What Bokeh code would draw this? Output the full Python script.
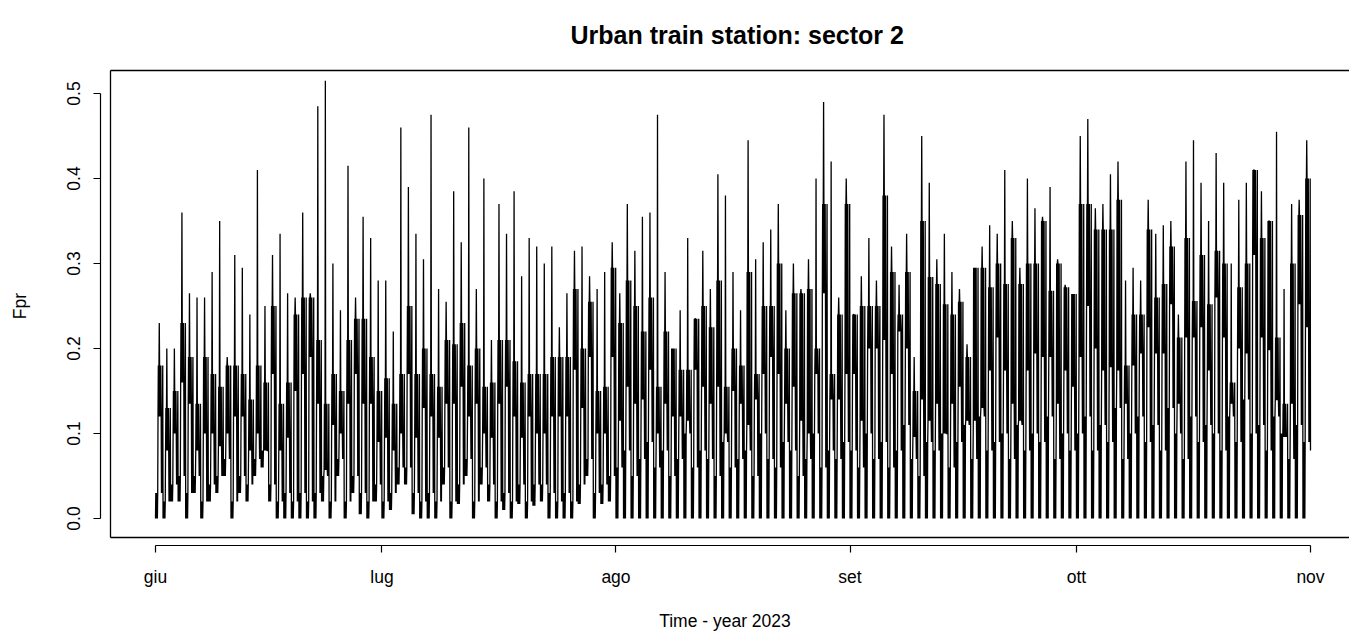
from bokeh.plotting import figure
from bokeh.models import FixedTicker, Range1d, Title, PrintfTickFormatter
from bokeh.embed import file_html
from bokeh.resources import INLINE

# ---------------- data ----------------
month_labels = ["giu", "lug", "ago", "set", "ott", "nov"]
month_start_day = [0, 30, 61, 92, 122, 153]   # days since 1 June 2023

# daily peak value
max_v = [
    .23, .20, .20, .36, .265, .26, .26, .29, .35, .19,
    .31, .295, .24, .41, .25, .31, .335, .265, .26, .36,
    .265, .485, .515, .30, .245, .415, .26, .355, .33, .28,
    .28, .22, .46, .39, .335, .305, .475, .27, .255, .385,
    .325, .46, .27, .40, .21, .37, .335, .385, .285, .33,
    .32, .30, .32, .225, .265, .315, .32, .285, .27, .29,
    .325, .265, .37, .315, .355, .36, .475, .29, .195, .245,
    .33, .235, .315, .27, .405, .38, .29, .245, .445, .305,
    .325, .34, .37, .245, .30, .27, .305, .40, .49, .42,
    .26, .40, .24, .285, .33, .28, .475, .32, .275, .335,
    .19, .45, .395, .305, .335, .29, .27, .205, .275, .32,
    .345, .335, .41, .35, .295, .40, .365, .355, .39, .305,
    .275, .26, .45, .47, .365, .37, .405, .42, .28, .295,
    .28, .375, .335, .345, .35, .24, .42, .445, .395, .35,
    .43, .395, .30, .375, .395, .41, .385, .35, .455, .27,
    .37, .375, .445,
]
# upper edge of the dense daytime band
hi_v = [
    .18, .13, .15, .23, .19, .135, .19, .17, .155, .18, .18, .17, .14, .18, .16, .25, .135, .16, .24, .26, .26, .21, .135, .17,
    .15, .21, .235, .235, .19, .15, .165, .135, .17, .25, .17, .20, .17, .155, .21, .205, .23, .18, .20, .155, .16, .21, .21, .185, .16, .17,
    .17, .17, .19, .19, .19, .27, .20, .255, .15, .155, .295, .23, .28, .25, .22, .26, .155, .22, .20, .175, .175, .235, .25, .225, .28, .155,
    .20, .18, .29, .17, .25, .25, .30, .20, .265, .265, .27, .20, .37, .17, .24, .37, .24, .25, .25, .25, .38, .29, .24, .29, .15, .35,
    .284, .276, .252, .24, .255, .19, .295, .295, .272, .30, .276, .33, .276, .30, .30, .35, .268, .30, .272, .264, .37, .37, .34, .34, .34, .375,
    .18, .24, .24, .34, .26, .276, .32, .213, .33, .256, .31, .252, .315, .30, .16, .272, .30, .41, .33, .35, .213, .135, .30, .357, .40,
]
# lower edge of the dense daytime band
lo_v = [
    .12, .08, .10, .16, .135, .08, .10, .10, .085, .10, .12, .12, .08, .10, .08, .17, .08, .095, .15, .17, .19, .135, .057, .11,
    .10, .135, .17, .135, .135, .09, .095, .08, .10, .17, .095, .13, .12, .095, .135, .135, .155, .12, .135, .10, .095, .135, .155, .12, .095, .12,
    .10, .10, .12, .12, .12, .175, .13, .19, .10, .10, .19, .115, .155, .135, .14, .175, .10, .135, .12, .12, .115, .175, .155, .135, .155, .10,
    .15, .135, .11, .14, .17, .19, .17, .135, .155, .115, .10, .17, .265, .14, .14, .17, .17, .115, .20, .20, .21, .17, .22, .20, .096, .14,
    .115, .135, .10, .135, .155, .115, .115, .13, .174, .213, .174, .135, .115, .174, .194, .19, .19, .135, .174, .155, .19, .25, .20, .174, .178, .174,
    .135, .18, .194, .225, .194, .194, .252, .135, .213, .213, .225, .174, .26, .213, .135, .20, .194, .31, .213, .198, .139, .096, .135, .252, .225,
]
# top of the night-time band
night_v = [
    .03, .02, .04, .05, .03, .05, .02, .04, .05, .07, .02, .05, .04, .07, .08, .04, .02, .03, .02, .03,
    .02, .03, .05, .02, .07, .02, .05, .03, .02, .04, .02, .03, .06, .06, .03, .02, .03, .02, .06, .02,
    .04, .07, .02, .06, .04, .02, .03, .02, .04, .02, .04, .04, .03, .02, .03, .02, .04, .07, .03, .04,
    .05,
    .06, .08, .05, .07, .09, .06, .08, .05, .07, .10, .06, .08, .07, .05, .09, .06, .07, .08, .05, .10,
    .07, .06, .09, .08, .05, .07, .10, .06, .08, .07, .09,
    .08, .06, .10, .07, .09, .06, .08, .11, .07, .05, .09, .08, .10, .06, .09, .11, .07, .12, .08, .09,
    .10, .07, .11, .08, .10, .09, .12, .07, .10, .08,
    .10, .12, .08, .11, .09, .13, .07, .10, .12, .09, .11, .08, .13, .10, .07, .12, .09, .11, .10, .08,
    .12, .09, .14, .10, .11, .08, .12, .10, .07, .11, .09,
]
# daily minimum
min_v = [
    0, 0, .02, .02, 0, .03, 0, .02, .03, .05, 0, .03, .02, .05, .06, .02, 0, 0, 0, 0,
    0, 0, .02, 0, .05, 0, .03, .005, 0, .02, 0, .01, .04, .04, .005, 0, 0, 0, .04, 0,
    .017, .05, 0, .04, .02, 0, .01, 0, .017, 0, .015, .02, 0, 0, 0, 0, .017, .05, 0, .017,
    .02,
    0, 0, 0, 0, 0, 0, 0, 0, 0, 0, 0, 0, 0, 0, 0, 0, 0, 0, 0, 0,
    0, 0, 0, 0, 0, 0, 0, 0, 0, 0, 0,
    0, 0, 0, 0, 0, 0, 0, 0, 0, 0, 0, 0, 0, 0, 0, 0, 0, 0, 0, 0,
    0, 0, 0, 0, 0, 0, 0, 0, 0, 0,
    0, 0, 0, 0, 0, 0, 0, 0, 0, 0, 0, 0, 0, 0, 0, 0, 0, 0, 0, 0,
    0, 0, 0, 0, 0, 0, 0, 0, 0, 0, 0,
]
last_value = 0.08   # reading at 1 Nov 00:00

# order in which a day's readings are visited (24 sub-daily samples)
day_profile = ["min", "night", "min", "night", "min", "night", "min", "night",
               "lo", "hi", "lo", "hi", "max", "hi", "lo", "hi", "lo", "hi",
               "lo", "night", "lo", "night", "lo", "hi"]

series = {"min": min_v, "night": night_v, "lo": lo_v, "hi": hi_v, "max": max_v}
n_days = len(max_v)
xs, ys = [], []
for d in range(n_days):
    for k, key in enumerate(day_profile):
        xs.append(d + k / len(day_profile))
        ys.append(series[key][d])
xs.append(month_start_day[-1])
ys.append(last_value)

# ---------------- layout (pixel geometry of the R device) ----------------
W, H = 1349, 643
frame_l, frame_r, frame_t, frame_b = 100, 1349, 66, 545
x0_px, x153_px = 155.0, 1310.0
ppd = (x153_px - x0_px) / 153.0
y0_px, ppu = 518.0, 850.0

x_start = (frame_l - x0_px) / ppd
x_end = (frame_r - x0_px) / ppd
y_start = (y0_px - frame_b) / ppu
y_end = (y0_px - frame_t) / ppu

box_l = (110 - x0_px) / ppd
box_b = (y0_px - 537) / ppu
box_t = (y0_px - 70) / ppu

FONT = "Liberation Sans"

p = figure(width=W, height=H, output_backend="svg", toolbar_location=None,
           x_range=Range1d(x_start, x_end), y_range=Range1d(y_start, y_end),
           min_border_left=frame_l, min_border_right=W - frame_r,
           min_border_top=frame_t, min_border_bottom=H - frame_b)
p.outline_line_color = None
p.xgrid.visible = False
p.ygrid.visible = False
p.background_fill_color = "white"
p.border_fill_color = "white"

p.line(xs, ys, line_color="black", line_width=1.3)

# plot box (left, top, bottom; right edge lies beyond the image)
p.segment(x0=[box_l, box_l, box_l], y0=[box_b, box_t, box_b],
          x1=[x_end + 5, x_end + 5, box_l], y1=[box_b, box_t, box_t],
          line_color="black", line_width=1.3)

# x axis
xa = p.xaxis[0]
xa.ticker = FixedTicker(ticks=month_start_day)
xa.major_label_overrides = {d: lab for d, lab in zip(month_start_day, month_labels)}
xa.bounds = (month_start_day[0], month_start_day[-1])
xa.minor_tick_line_color = None
xa.major_tick_in = 0
xa.major_tick_out = 7
xa.axis_line_color = "black"
xa.axis_line_width = 1.2
xa.major_tick_line_color = "black"
xa.major_tick_line_width = 1.2
xa.major_label_text_font = FONT
xa.major_label_text_font_size = "17.5px"
xa.major_label_text_color = "black"
xa.major_label_standoff = 14
xa.axis_label = "Time - year 2023"
xa.axis_label_text_font = FONT
xa.axis_label_text_font_size = "17.5px"
xa.axis_label_text_font_style = "normal"
xa.axis_label_text_color = "black"
xa.axis_label_standoff = 21

# y axis
ya = p.yaxis[0]
ya.ticker = FixedTicker(ticks=[0.0, 0.1, 0.2, 0.3, 0.4, 0.5])
ya.formatter = PrintfTickFormatter(format="%.1f")
ya.bounds = (0.0, 0.5)
ya.minor_tick_line_color = None
ya.major_tick_in = 0
ya.major_tick_out = 7
ya.axis_line_width = 1.2
ya.major_tick_line_width = 1.2
ya.major_label_orientation = "vertical"
ya.major_label_text_font = FONT
ya.major_label_text_font_size = "17.5px"
ya.major_label_text_color = "black"
ya.major_label_standoff = 14
ya.axis_label = "Fpr"
ya.axis_label_text_font = FONT
ya.axis_label_text_font_size = "17.5px"
ya.axis_label_text_font_style = "normal"
ya.axis_label_text_color = "black"
ya.axis_label_standoff = 34

p.title = Title(text="Urban train station: sector 2", align="left",
                text_font=FONT, text_font_size="25px", text_font_style="bold",
                text_color="black", offset=470, standoff=36)

open("out.html", "w").write(file_html(p, INLINE))
